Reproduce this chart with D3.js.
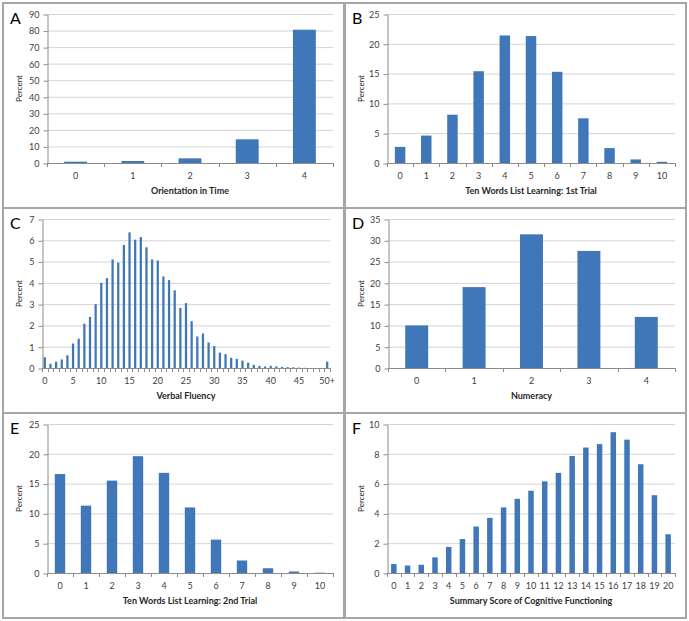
<!DOCTYPE html>
<html>
<head>
<meta charset="utf-8">
<title>Cognitive functioning distributions</title>
<script src="https://cdn.jsdelivr.net/npm/d3@7"></script>
<style>
  body { margin: 0; background: #fff; }
  text { font-family: Lato, "Liberation Sans", sans-serif; }
</style>
</head>
<body>
<svg width="689" height="621" id="mainsvg"></svg>
<script>
    // panel A: orientation in time
    const orientCats = ["0", "1", "2", "3", "4"];
    const orientValues = [0.8, 1.2, 2.8, 14.3, 80.5];

    // panel B: ten words, 1st trial
    const trial1Cats = ["0", "1", "2", "3", "4", "5", "6", "7", "8", "9", "10"];
    const trial1Values = [2.7, 4.6, 8.1, 15.4, 21.4, 21.3, 15.3, 7.5, 2.5, 0.6, 0.2];

    // panel C: verbal fluency, 0..49 and 50+
    const fluencyCats = d3.range(50).map(String).concat(["50+"]);
    const fluencyValues = [0.5, 0.2, 0.3, 0.4, 0.6, 1.15, 1.38, 2.08, 2.4, 3.0,
        4.0, 4.22, 5.1, 4.95, 5.78, 6.37, 6.03, 6.15, 5.67, 5.1,
        5.05, 4.3, 4.13, 3.65, 2.82, 3.05, 2.2, 1.48, 1.62, 1.2,
        1.03, 0.72, 0.65, 0.48, 0.43, 0.35, 0.25, 0.15, 0.1, 0.07,
        0.1, 0.08, 0.05, 0.04, 0.03, 0.02, 0.01, 0, 0, 0,
        0.3];
    const fluencyTicks = ["0", "5", "10", "15", "20", "25", "30", "35", "40", "45", "50+"];

    // panel D: numeracy
    const numeracyCats = ["0", "1", "2", "3", "4"];
    const numeracyValues = [10.0, 19.0, 31.4, 27.5, 12.0];

    // panel E: ten words, 2nd trial
    const trial2Cats = ["0", "1", "2", "3", "4", "5", "6", "7", "8", "9", "10"];
    const trial2Values = [16.6, 11.3, 15.5, 19.6, 16.8, 11.0, 5.6, 2.1, 0.8, 0.25, 0.05];

    // panel F: summary score
    const summaryCats = d3.range(21).map(String);
    const summaryValues = [0.6, 0.5, 0.55, 1.05, 1.75, 2.28, 3.12, 3.7, 4.4, 4.98,
        5.52, 6.15, 6.72, 7.85, 8.42, 8.65, 9.45, 8.95, 7.3, 5.22, 2.6];

    const panels = [
        {letter: "A", cats: orientCats, values: orientValues, max: 90, step: 10,
         title: "Orientation in Time", px: 3, py: 3, left: 47, right: 333},
        {letter: "B", cats: trial1Cats, values: trial1Values, max: 25, step: 5,
         title: "Ten Words List Learning: 1st Trial", px: 345, py: 3, left: 387, right: 675},
        {letter: "C", cats: fluencyCats, values: fluencyValues, max: 7, step: 1, ticks: fluencyTicks,
         title: "Verbal Fluency", px: 3, py: 208, left: 42, right: 330},
        {letter: "D", cats: numeracyCats, values: numeracyValues, max: 35, step: 5,
         title: "Numeracy", px: 345, py: 208, left: 388, right: 675},
        {letter: "E", cats: trial2Cats, values: trial2Values, max: 25, step: 5,
         title: "Ten Words List Learning: 2nd Trial", px: 3, py: 413, left: 47, right: 333},
        {letter: "F", cats: summaryCats, values: summaryValues, max: 10, step: 2,
         title: "Summary Score of Cognitive Functioning", px: 345, py: 413, left: 387, right: 675}
    ];

    const mainsvg = d3.select('#mainsvg');
    const panelW = 341, panelH = 205;
    const barColor = "#4077b8";

    panels.forEach(p => {
        const g = mainsvg.append('g');
        const top = p.py + 11, bottom = p.py + 160;

        g.append('rect')
            .attr('x', p.px).attr('y', p.py)
            .attr('width', panelW).attr('height', panelH)
            .attr('fill', 'white')
            .attr('stroke', '#a6a6a6')
            .attr('stroke-width', 2);

        const x = d3.scaleBand().domain(p.cats)
            .range([p.left, p.right])
            .paddingInner(0.6).paddingOuter(0.3);
        const y = d3.scaleLinear().domain([0, p.max]).range([bottom, top]);
        const yTicks = d3.range(0, p.max + p.step / 2, p.step);

        // gridlines
        g.selectAll('.grid').data(yTicks.slice(1)).join('line')
            .attr('x1', p.left).attr('x2', p.right)
            .attr('y1', d => y(d) + 0.5).attr('y2', d => y(d) + 0.5)
            .attr('stroke', '#d4d4d4').attr('stroke-width', 1);

        // y axis
        const yAxis = g.append('g')
            .attr('transform', `translate(${p.left + 0.5},0.5)`)
            .call(d3.axisLeft(y).tickValues(yTicks).tickFormat(d3.format("d"))
                .tickSize(4).tickPadding(4).tickSizeOuter(0));
        yAxis.select('.domain').attr('stroke', '#8c8c8c');
        yAxis.selectAll('.tick line').attr('stroke', '#8c8c8c');
        yAxis.selectAll('text').attr('fill', '#404040').style('font-size', '9px');

        // bars
        g.selectAll('.bar').data(p.values).join('rect')
            .attr('x', (d, i) => x(p.cats[i]))
            .attr('y', d => y(d))
            .attr('width', x.bandwidth())
            .attr('height', d => bottom - y(d))
            .attr('fill', barColor);

        // x axis: line, boundary ticks, labels
        g.append('line')
            .attr('x1', p.left).attr('x2', p.right)
            .attr('y1', bottom + 0.5).attr('y2', bottom + 0.5)
            .attr('stroke', '#8c8c8c');
        const bounds = p.cats.map(c => x(c) - x.step() * 0.3).concat([p.right]);
        g.selectAll('.xtick').data(bounds).join('line')
            .attr('x1', d => Math.round(d) + 0.5).attr('x2', d => Math.round(d) + 0.5)
            .attr('y1', bottom).attr('y2', bottom + 4)
            .attr('stroke', '#8c8c8c');
        const labels = p.ticks || p.cats;
        g.selectAll('.xlab').data(labels).join('text')
            .attr('x', d => x(d) + x.bandwidth() / 2)
            .attr('y', bottom + 16)
            .attr('text-anchor', 'middle')
            .attr('fill', '#404040')
            .style('font-size', '9px')
            .text(d => d);

        // axis titles
        g.append('text')
            .attr('x', (p.left + p.right) / 2)
            .attr('y', bottom + 31)
            .attr('text-anchor', 'middle')
            .attr('fill', '#262626')
            .style('font-size', '9px')
            .style('font-weight', 'bold')
            .text(p.title);
        g.append('text')
            .attr('transform', `translate(${p.px + 19},${(top + bottom) / 2}) rotate(-90)`)
            .attr('text-anchor', 'middle')
            .attr('fill', '#262626')
            .style('font-size', '8px')
            .text('Percent');

        // panel letter
        g.append('text')
            .attr('x', p.px + 7)
            .attr('y', p.py + 21)
            .attr('fill', '#000')
            .style('font-size', '16px')
            .text(p.letter);
    });
</script>
</body>
</html>
